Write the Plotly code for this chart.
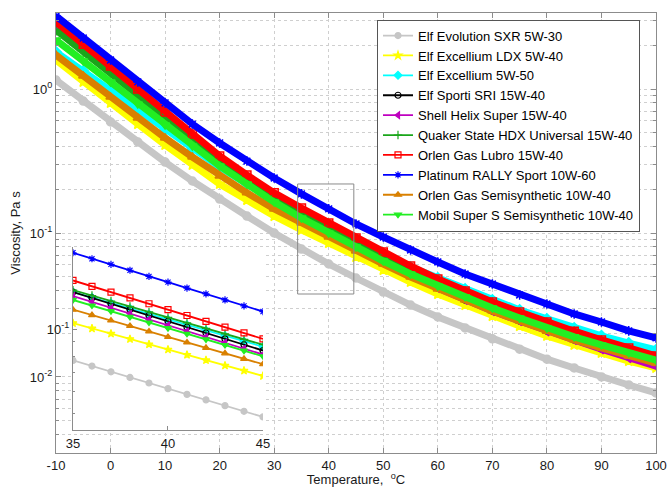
import plotly.graph_objects as go

# ---------------- data ----------------
temps = [-10, -5, 0, 5, 10, 15, 20, 25, 30, 35, 40, 45, 50, 55, 60, 65, 70, 75, 80, 85, 90, 95, 100]

names = [
    "Elf Evolution SXR 5W-30",
    "Elf Excellium LDX 5W-40",
    "Elf Excellium 5W-50",
    "Elf Sporti SRI 15W-40",
    "Shell Helix Super 15W-40",
    "Quaker State HDX Universal 15W-40",
    "Orlen Gas Lubro 15W-40",
    "Platinum RALLY Sport 10W-60",
    "Orlen Gas Semisynthetic 10W-40",
    "Mobil Super S Semisynthetic 10W-40",
]

elf_sxr = [1.155, 0.825, 0.590, 0.4285, 0.311, 0.2297, 0.172, 0.1312, 0.100, 0.0774, 0.0609, 0.0487,
           0.0389, 0.0316, 0.0261, 0.0219, 0.0184, 0.0156, 0.0133, 0.01155, 0.0100, 0.0088, 0.00774]
elf_ldx = [1.59, 1.12, 0.80, 0.571, 0.409, 0.297, 0.219, 0.1695, 0.1312, 0.105, 0.0852, 0.0681,
           0.0553, 0.0457, 0.0377, 0.0316, 0.0265, 0.0226, 0.0193, 0.0167, 0.0147, 0.0129, 0.01155]
elf_5w50 = [1.807, 1.334, 0.984, 0.715, 0.519, 0.383, 0.287, 0.219, 0.1695, 0.1355, 0.1083, 0.0866,
            0.0703, 0.0581, 0.0487, 0.0409, 0.0343, 0.0292, 0.0253, 0.0219, 0.0193, 0.0172, 0.0154]
elf_sri = [2.65, 1.927, 1.377, 0.938, 0.649, 0.4496, 0.316, 0.2335, 0.175, 0.1355, 0.1066, 0.0839,
           0.0660, 0.0528, 0.0422, 0.0348, 0.0292, 0.0249, 0.0212, 0.0184, 0.0159, 0.0140, 0.0123]
shell = [2.78, 1.957, 1.355, 0.923, 0.629, 0.435, 0.306, 0.226, 0.1695, 0.1312, 0.1032, 0.0812,
         0.0639, 0.0511, 0.0415, 0.0343, 0.0287, 0.0245, 0.0208, 0.0181, 0.0156, 0.01355, 0.0119]
quaker = [2.57, 1.836, 1.312, 0.908, 0.629, 0.4425, 0.311, 0.2335, 0.175, 0.1377, 0.110, 0.0880,
          0.0703, 0.0571, 0.0464, 0.0389, 0.0327, 0.0278, 0.0237, 0.0205, 0.0178, 0.0154, 0.01355]
lubro = [2.92, 2.05, 1.445, 1.00, 0.692, 0.487, 0.343, 0.253, 0.190, 0.149, 0.1173, 0.0923,
         0.0738, 0.0590, 0.0479, 0.0396, 0.0332, 0.0283, 0.0241, 0.0208, 0.0181, 0.0159, 0.0140]
platinum = [3.21, 2.26, 1.59, 1.12, 0.80, 0.571, 0.422, 0.316, 0.241, 0.187, 0.147, 0.1155,
            0.0938, 0.0762, 0.0629, 0.0519, 0.0442, 0.0371, 0.0321, 0.0274, 0.0241, 0.0209, 0.0187]
orlen_semi = [1.722, 1.231, 0.880, 0.629, 0.457, 0.337, 0.249, 0.190, 0.147, 0.1173, 0.0938, 0.075,
              0.0609, 0.0495, 0.0409, 0.0343, 0.0287, 0.0245, 0.0208, 0.0181, 0.0159, 0.0140, 0.0125]
mobil = [2.19, 1.565, 1.118, 0.787, 0.562, 0.402, 0.292, 0.219, 0.164, 0.127, 0.100, 0.080,
         0.0639, 0.0519, 0.0429, 0.0360, 0.0301, 0.0257, 0.0219, 0.0190, 0.0167, 0.0147, 0.0131]

# inset (zoom 35..45 degC)
inset_temps = [35, 36, 37, 38, 39, 40, 41, 42, 43, 44, 45]
in_elf_sxr = [0.0774, 0.0739, 0.0705, 0.0673, 0.0643, 0.0614, 0.0586, 0.0560, 0.0534, 0.0510, 0.0487]
in_elf_ldx = [0.105, 0.1005, 0.0963, 0.0922, 0.0883, 0.0846, 0.0810, 0.0775, 0.0742, 0.0711, 0.0681]
in_elf_5w50 = [0.1355, 0.1296, 0.1239, 0.1185, 0.1133, 0.1083, 0.1036, 0.0990, 0.0947, 0.0906, 0.0866]
in_elf_sri = [0.1355, 0.1292, 0.1231, 0.1174, 0.1119, 0.1066, 0.1016, 0.0969, 0.0923, 0.0880, 0.0839]
in_shell = [0.1312, 0.1251, 0.1192, 0.1136, 0.1083, 0.1032, 0.0984, 0.0938, 0.0894, 0.0852, 0.0812]
in_quaker = [0.1377, 0.1317, 0.1259, 0.1204, 0.1151, 0.1101, 0.1053, 0.1006, 0.0962, 0.0920, 0.0880]
in_lubro = [0.149, 0.142, 0.1354, 0.1291, 0.1231, 0.1173, 0.1118, 0.1066, 0.1016, 0.0969, 0.0923]
in_platinum = [0.187, 0.178, 0.170, 0.162, 0.154, 0.147, 0.140, 0.1335, 0.127, 0.121, 0.1155]
in_orlen_semi = [0.1173, 0.1122, 0.1073, 0.1026, 0.0981, 0.0938, 0.0897, 0.0858, 0.0820, 0.0784, 0.0750]
in_mobil = [0.127, 0.1213, 0.1158, 0.1105, 0.1055, 0.1008, 0.0962, 0.0919, 0.0877, 0.0838, 0.0800]

zoom_box_t = [34.3, 44.6]
zoom_box_v = [0.0377, 0.219]

main_vals = [elf_sxr, elf_ldx, elf_5w50, elf_sri, shell, quaker, lubro, platinum, orlen_semi, mobil]
inset_vals = [in_elf_sxr, in_elf_ldx, in_elf_5w50, in_elf_sri, in_shell, in_quaker, in_lubro,
              in_platinum, in_orlen_semi, in_mobil]

x_ticks = [-10, 0, 10, 20, 30, 40, 50, 60, 70, 80, 90, 100]
x_ticktext = ["-10", "0", "10", "20", "30", "40", "50", "60", "70", "80", "90", "100"]
y_ticks = [0.01, 0.1, 1]
y_ticktext = ["10<sup>-2</sup>", "10<sup>-1</sup>", "10<sup>0</sup>"]

# ---------------- styles ----------------
colors = ["#c6c6c6", "#ffff00", "#00ffff", "#000000", "#bf00bf",
          "#1aa61a", "#ff0000", "#0000ff", "#d98000", "#22ee22"]
symbols = ["circle", "star", "diamond", "circle-open", "triangle-left",
           "cross-thin-open", "square-open", "asterisk-open", "triangle-up", "triangle-down"]

FONT = "Liberation Sans, Arial, sans-serif"
fig = go.Figure()

for vals, c, s in zip(main_vals, colors, symbols):
    fig.add_trace(go.Scatter(
        x=temps, y=vals, mode="lines+markers", showlegend=False, hoverinfo="skip",
        line=dict(color=c, width=7),
        marker=dict(symbol=s, size=8, color=c, line=dict(color=c, width=1.5)),
        xaxis="x", yaxis="y"))

fig.add_trace(go.Scatter(
    x=[zoom_box_t[0], zoom_box_t[1], zoom_box_t[1], zoom_box_t[0], zoom_box_t[0]],
    y=[zoom_box_v[0], zoom_box_v[0], zoom_box_v[1], zoom_box_v[1], zoom_box_v[0]],
    mode="lines", line=dict(color="#8a8a8a", width=1), showlegend=False, hoverinfo="skip",
    xaxis="x", yaxis="y"))

for name, vals, c, s in zip(names, inset_vals, colors, symbols):
    fig.add_trace(go.Scatter(
        x=inset_temps, y=vals, mode="lines+markers", name=name,
        line=dict(color=c, width=1.8),
        marker=dict(symbol=s, size=6, color=c, line=dict(color=c, width=1.2)),
        xaxis="x2", yaxis="y2"))

minor_main = [m * d for d in [0.001, 0.01, 0.1, 1] for m in range(2, 10)]
minor_inset = [0.05, 0.06, 0.07, 0.08, 0.09]

axis_line = "#8c8c8c"
grid = "#cfcfcf"

fig.update_layout(
    width=667, height=487,
    margin=dict(l=56, r=11, t=13, b=34, autoexpand=False),
    paper_bgcolor="white", plot_bgcolor="white",
    font=dict(family=FONT, size=13, color="#1a1a1a"),
    xaxis=dict(
        domain=[0, 1], range=[-10, 100], tickvals=x_ticks, ticktext=x_ticktext,
        showgrid=True, gridcolor=grid, griddash="dot", gridwidth=1, zeroline=False,
        showline=True, linecolor=axis_line, linewidth=1, mirror="ticks",
        ticks="inside", ticklen=5, tickcolor=axis_line, automargin=False,
        title=dict(text="Temperature,  <sup>o</sup>C", standoff=2, font=dict(size=13)),
    ),
    yaxis=dict(
        type="log", range=[-2.528, 0.528], tickvals=y_ticks, ticktext=y_ticktext,
        showgrid=True, gridcolor=grid, griddash="dot", gridwidth=1, zeroline=False,
        showline=True, linecolor=axis_line, linewidth=1, mirror="ticks",
        ticks="inside", ticklen=5, tickcolor=axis_line, automargin=False,
        minor=dict(tickvals=minor_main, showgrid=True, gridcolor=grid, griddash="dot",
                   ticks="inside", ticklen=3, tickcolor=axis_line),
        title=dict(text="Viscosity, Pa s", standoff=6, font=dict(size=13)),
    ),
    xaxis2=dict(
        domain=[0.0283, 0.345], anchor="y2", range=[35, 45], tickvals=[35, 40, 45],
        showgrid=False, zeroline=False, showline=True, linecolor=axis_line, linewidth=1,
        ticks="inside", ticklen=4, tickcolor=axis_line, ticklabelstandoff=1, automargin=False,
    ),
    yaxis2=dict(
        domain=[0.0523, 0.468], anchor="x2", type="log", range=[-1.359, -0.708],
        tickvals=[0.1], ticktext=["10<sup>-1</sup>"],
        showgrid=False, zeroline=False, showline=True, linecolor=axis_line, linewidth=1,
        ticks="inside", ticklen=4, tickcolor=axis_line, automargin=False,
        minor=dict(tickvals=minor_inset, ticks="inside", ticklen=2, tickcolor=axis_line),
    ),
    legend=dict(
        x=0.535, y=0.985, xanchor="left", yanchor="top",
        bgcolor="white", bordercolor="#555555", borderwidth=1,
        font=dict(family=FONT, size=13, color="#000000"),
        tracegroupgap=0, itemwidth=30,
    ),
)

fig.write_html("out.html", config={"displayModeBar": False},
               post_script="document.body.style.margin='0';document.body.style.padding='0';")
